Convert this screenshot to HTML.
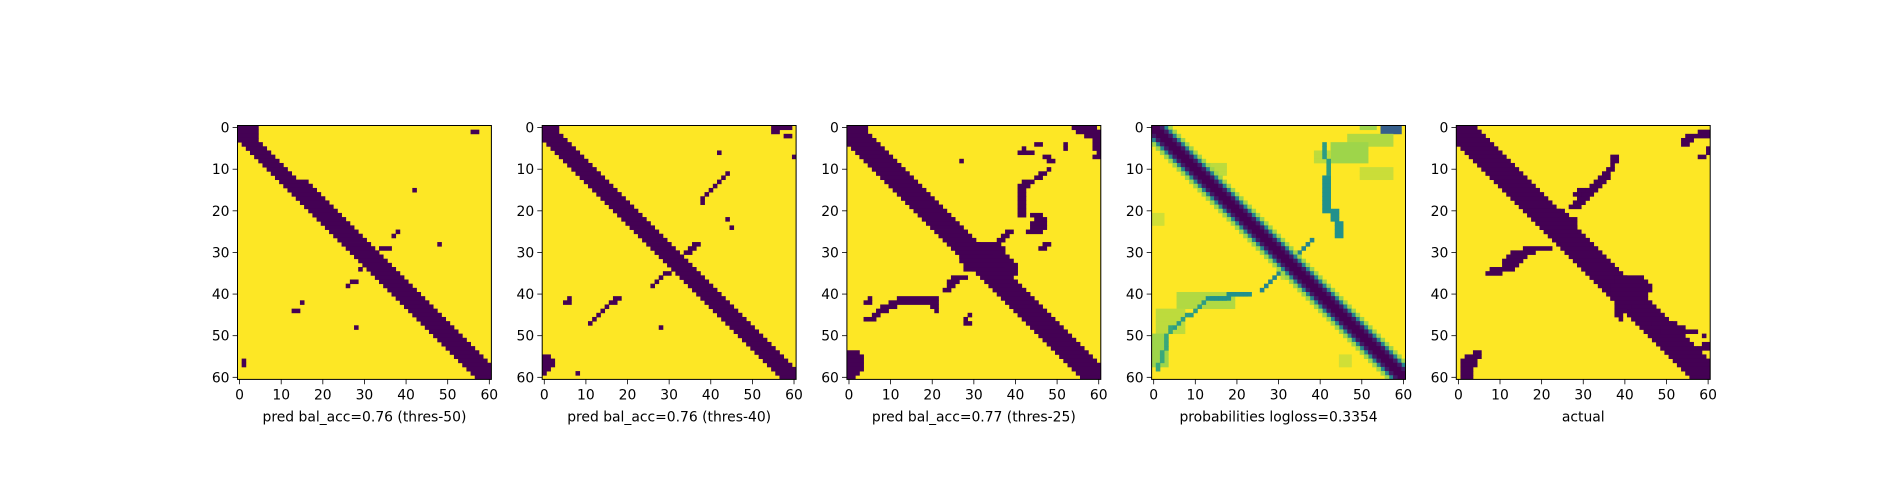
<!DOCTYPE html>
<html><head><meta charset="utf-8"><style>
html,body{margin:0;padding:0;background:#fff;}
svg{display:block;font-family:"DejaVu Sans","Liberation Sans",sans-serif;}
</style></head><body>
<svg id="fig" width="1900" height="500" viewBox="0 0 1900 500"></svg>
<script>
// ---- data ----
const ticks = [0,10,20,30,40,50,60];
const titles = ["pred bal_acc=0.76 (thres-50)","pred bal_acc=0.76 (thres-40)","pred bal_acc=0.77 (thres-25)","probabilities logloss=0.3354","actual"];
const p1Start=[0,0,0,0,1,2,3,4,5,6,7,8,9,10,11,12,13,14,15,16,17,18,19,20,21,22,23,24,25,26,27,28,29,30,31,32,33,34,35,36,37,38,39,40,41,42,43,44,45,46,47,48,49,50,51,52,53,54,55,56,57];
const p1End=[4,4,4,4,5,6,7,8,9,10,11,12,13,16,17,18,19,20,21,22,23,24,25,26,27,28,29,30,31,32,33,34,35,36,37,38,39,40,41,42,43,44,45,46,47,48,49,50,51,52,53,54,55,56,57,58,59,60,60,60,60];
const p1Extra=[[1,56,57],[15,42,42],[28,48,48],[26,37,37],[25,38,38],[29,34,36],[34,29,29],[37,27,28],[38,26,26],[42,15,15],[44,13,14],[48,28,28],[56,1,1],[57,1,1]];
const p2Start=[0,0,0,0,1,2,3,4,5,6,7,8,9,10,11,12,13,14,15,16,17,18,19,20,21,22,23,24,25,26,27,28,29,30,31,32,33,34,35,36,37,38,39,40,41,42,43,44,45,46,47,48,49,50,51,52,53,54,55,56,57];
const p2End=[3,3,4,5,6,7,8,9,10,11,12,13,14,15,16,17,18,19,20,21,22,23,24,25,26,27,28,29,30,31,32,33,34,35,36,37,38,39,40,41,42,43,44,45,46,47,48,49,50,51,52,53,54,55,56,57,58,59,60,60,60];
const p2Extra=[[0,55,59],[1,55,56],[2,58,59],[7,60,60],[6,42,42],[11,44,44],[12,43,43],[13,42,42],[14,41,41],[15,40,40],[16,39,39],[17,38,38],[18,38,38],[22,44,44],[24,45,45],[28,36,37],[29,35,36],[30,34,35],[35,29,30],[36,28,28],[37,27,27],[38,26,26],[41,17,18],[42,16,17],[43,15,15],[44,14,14],[45,13,13],[46,12,12],[47,11,11],[41,6,6],[42,5,6],[48,28,28],[55,0,1],[56,0,2],[57,0,2],[58,0,1],[59,0,0],[59,8,8]];
const p3Start=[0,0,0,0,0,1,2,3,4,5,6,7,8,9,10,11,12,13,14,15,16,17,18,19,20,21,22,23,24,25,26,27,28,29,30,31,32,33,34,35,36,37,38,39,40,41,42,43,44,45,46,47,48,49,50,51,52,53,54,55,56];
const p3End=[4,4,5,6,7,8,9,10,11,12,13,14,15,16,17,18,19,20,21,22,23,24,25,26,27,28,29,30,31,32,33,34,35,36,37,38,39,40,41,42,43,44,45,46,47,48,49,50,51,52,53,54,55,56,57,58,59,60,60,60,60];
const p3Extra=[[28,26,36],[29,26,37],[30,27,37],[31,27,38],[32,27,39],[33,28,40],[34,28,40],[35,31,40],[27,36,37],[26,37,38],[25,38,39],[36,25,28],[37,24,26],[38,24,25],[39,23,24],
[0,54,59],[1,55,60],[2,57,60],[3,59,60],[4,59,60],[5,59,60],[6,60,60],[7,59,60],[4,45,46],[4,52,52],[5,52,52],[5,42,42],[6,41,44],[7,47,48],[8,48,49],[8,27,27],[10,48,48],[11,46,47],[12,45,46],[13,42,44],
[14,41,43],[15,41,42],[16,41,42],[17,41,42],[18,41,42],[19,41,42],[20,41,42],[21,41,42],[21,44,46],[22,45,47],[23,44,47],[24,44,47],[25,43,46],[28,47,48],[29,46,47],
[41,12,21],[42,10,21],[43,8,11],[44,7,9],[45,6,7],[46,5,6],[43,20,21],[44,21,21],[45,29,29],[46,28,28],[47,28,29],[41,5,5],[42,4,5],[46,4,4],
[54,0,2],[55,0,3],[56,0,3],[57,0,3],[58,0,3],[59,0,2],[60,0,1]];
const p5Start=[0,0,0,0,0,1,2,3,4,5,6,7,8,9,10,11,12,13,14,15,16,17,18,19,20,21,22,23,24,25,26,27,28,29,30,31,32,33,34,35,36,37,38,39,40,41,42,43,44,45,46,47,48,49,50,51,52,53,54,55,56];
const p5End=[4,5,6,7,8,9,10,11,12,13,14,15,16,17,18,19,20,21,22,23,24,25,26,27,28,29,30,31,32,33,34,35,36,37,38,39,40,41,42,43,44,45,46,47,48,49,50,51,52,53,54,55,56,57,58,59,60,60,60,60,60];
const p5Extra=[[20,17,25],[21,18,26],[22,18,28],[23,19,28],[24,20,28],[25,21,28],[26,22,29],[27,24,30],[28,25,31],
[19,27,29],[18,28,30],[17,29,31],[16,30,32],[15,31,33],[14,32,34],[13,33,35],[12,34,36],[11,35,36],[10,36,37],[9,37,37],[8,37,38],[7,37,38],[15,29,30],[16,28,29],
[29,16,22],[30,13,18],[31,12,16],[32,11,15],[33,11,14],[34,8,13],[35,7,10],
[36,38,44],[37,38,45],[38,37,46],[39,37,46],[40,37,45],[41,37,44],[42,38,44],[43,38,41],[44,38,40],[45,38,39],[46,39,39],
[47,47,52],[48,49,54],[49,49,57],[50,59,59],[52,59,60],[53,58,60],
[54,4,5],[55,2,5],[56,1,4],[57,1,4],[58,1,3],[59,1,3],[60,1,3],
[1,58,60],[2,55,60],[3,54,56],[4,54,55],[5,60,60],[6,60,60],[7,58,59]];
// probabilities panel: rectangular patches [r0,r1,c0,c1,value], ridges [r0,c0,r1,c1,width,value]
const probPatches=[[0,1,55,59,0.3],[0,0,50,53,0.85],[2,4,47,57,0.88],[4,8,43,51,0.85],[6,8,39,42,0.9],[10,12,50,57,0.92],[9,11,14,17,0.9],[40,43,6,19,0.88],[44,49,1,7,0.9],[50,57,0,3,0.85],[21,23,0,2,0.93],[34,36,31,33,0.9],[55,57,45,47,0.93]];
const probRidges=[[12,41,20,41,2,0.5],[20,43,26,44,2,0.5],[27,38,31,34,1,0.45],[4,41,11,42,1,0.55],[35,30,39,26,1,0.45],[40,22,41,13,2,0.5],[42,12,48,5,1,0.55],[48,4,58,1,1,0.6]];
const probBandCore=[0,1,2];        // |c-r| offsets shown dark
const probBandCoreVal=[0.0,0.0,0.08];
const probBandEdge=[3,4];          // offsets for teal/green edge
const probBandEdgeVal=[0.45,0.85];

// ---- drawing ----
const NS="http://www.w3.org/2000/svg";
const svg=document.getElementById('fig');
const N=61, W=253.9, CS=W/N, TOP=125.5;
const LEFTS=[237.5,542.2,846.9,1151.6,1456.3];
function viridis(t){
  const s=[[68,1,84],[59,82,139],[33,145,140],[94,201,98],[253,231,37]];
  t=Math.max(0,Math.min(1,t));const p=t*4,i=Math.min(3,Math.floor(p)),f=p-i;
  const a=s[i],b=s[i+1];
  return `rgb(${Math.round(a[0]+(b[0]-a[0])*f)},${Math.round(a[1]+(b[1]-a[1])*f)},${Math.round(a[2]+(b[2]-a[2])*f)})`;
}
function el(tag,attrs,parent){const e=document.createElementNS(NS,tag);for(const k in attrs)e.setAttribute(k,attrs[k]);(parent||svg).appendChild(e);return e;}
function xOf(L,c){return L+c*CS;}
function yOf(r){return TOP+r*CS;}
function cell(g,r,c0,c1,col){
  if(r<0||r>60)return;c0=Math.max(0,c0);c1=Math.min(60,c1);if(c1<c0)return;
  const e=el('rect',{x:xOf(g.L,c0),y:yOf(r),width:Math.min((c1-c0+1)*CS+0.4,g.L+W-xOf(g.L,c0)),height:Math.min(CS+0.4,TOP+W-yOf(r)),fill:col},g.node);
  
  
}
function panel(i){
  const L=LEFTS[i];
  const node=el('g',{});
  
  
  const g={L,node};
  const bg=el('rect',{x:L,y:TOP,width:W,height:W,fill:'#fde725'},node);
  
  
  return g;
}
function binaryPanel(i,st,en,ex){
  const g=panel(i);const D='#440154';
  for(let r=0;r<N;r++)cell(g,r,st[r],en[r],D);
  ex.forEach(e=>cell(g,e[0],e[1],e[2],D));
  return g;
}
binaryPanel(0,p1Start,p1End,p1Extra);
binaryPanel(1,p2Start,p2End,p2Extra);
binaryPanel(2,p3Start,p3End,p3Extra);
(function(){
  const g=panel(3);
  probPatches.forEach(p=>{for(let r=p[0];r<=p[1];r++)cell(g,r,p[2],p[3],viridis(p[4]));});
  probRidges.forEach(q=>{
    const steps=Math.max(Math.abs(q[2]-q[0]),Math.abs(q[3]-q[1]),1);
    for(let s=0;s<=steps;s++){
      const r=Math.round(q[0]+(q[2]-q[0])*s/steps),c=Math.round(q[1]+(q[3]-q[1])*s/steps);
      cell(g,r,c,c+q[4]-1,viridis(q[5]));
    }
  });
  for(let r=0;r<N;r++){
    probBandEdge.forEach((o,k)=>{cell(g,r,r-o,r-o,viridis(probBandEdgeVal[k]));cell(g,r,r+o,r+o,viridis(probBandEdgeVal[k]));});
    probBandCore.forEach((o,k)=>{cell(g,r,r-o,r-o,viridis(probBandCoreVal[k]));cell(g,r,r+o,r+o,viridis(probBandCoreVal[k]));});
  }
})();
binaryPanel(4,p5Start,p5End,p5Extra);

LEFTS.forEach((L,i)=>{
  const frame=el('rect',{x:L,y:TOP,width:W,height:W,fill:'none',stroke:'#000','stroke-width':1});
  
  
  ticks.forEach(t=>{
    const px=L+(t+0.5)*CS, py=TOP+(t+0.5)*CS;
    el('line',{x1:px,y1:TOP+W,x2:px,y2:TOP+W+4.9,stroke:'#000','stroke-width':0.8});
    const xt=el('text',{x:px,y:TOP+W+20,'font-size':13.9,'text-anchor':'middle',fill:'#000'});
    xt.textContent=t;
    
    
    el('line',{x1:L,y1:py,x2:L-4.9,y2:py,stroke:'#000','stroke-width':0.8});
    const yt=el('text',{x:L-8,y:py+5,'font-size':13.9,'text-anchor':'end',fill:'#000'});
    yt.textContent=t;
    
    
  });
  const lab=el('text',{x:L+W/2,y:TOP+W+42,'font-size':13.9,'text-anchor':'middle',fill:'#000'});
  lab.textContent=titles[i];
  
  
});
</script>
</body></html>
